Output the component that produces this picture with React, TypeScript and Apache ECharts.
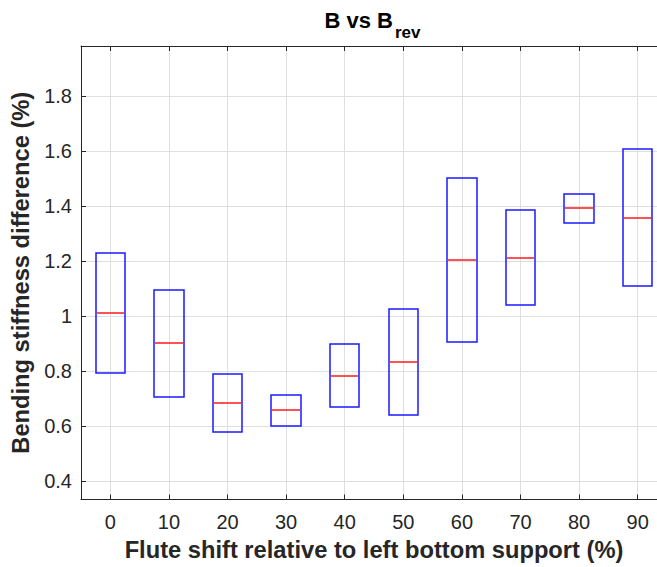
import React, { useEffect, useRef } from 'react';
import * as echarts from 'echarts';

const categories = ['0', '10', '20', '30', '40', '50', '60', '70', '80', '90'];
const q1 = [0.792, 0.704, 0.578, 0.601, 0.670, 0.640, 0.904, 1.040, 1.339, 1.109];
const medians = [1.011, 0.900, 0.683, 0.657, 0.783, 0.833, 1.205, 1.213, 1.392, 1.357];
const q3 = [1.229, 1.096, 0.788, 0.713, 0.897, 1.025, 1.504, 1.387, 1.445, 1.608];
const yMin = 0.332;
const yMax = 1.983;
const yStep = 0.2;

const FONT = '"Liberation Sans", Arial, Helvetica, sans-serif';
const AX = '#262626';
const GRID = '#dfdfdf';

const snap = (v: number) => Math.round(v);

export default function App() {
  const ref = useRef<HTMLDivElement>(null);
  useEffect(() => {
    if (!ref.current) return;
    const chart = echarts.init(ref.current, null, { renderer: 'svg' });
    const data = categories.map((c, i) => [i, q1[i], medians[i], q3[i]]);
    chart.setOption({
      animation: false,
      backgroundColor: '#ffffff',
      textStyle: { fontFamily: FONT },
      grid: { left: 81, top: 46, right: 0, bottom: 62, containLabel: false },
      graphic: [
        {
          type: 'text',
          x: 393,
          y: 20,
          style: {
            text: 'B vs B',
            font: `bold 22px ${FONT}`,
            fill: '#000',
            textAlign: 'right',
            textVerticalAlign: 'middle',
          },
        },
        {
          type: 'text',
          x: 395,
          y: 32,
          style: {
            text: 'rev',
            font: `bold 17px ${FONT}`,
            fill: '#000',
            textAlign: 'left',
            textVerticalAlign: 'middle',
          },
        },
      ],
      xAxis: [
        {
          type: 'category',
          data: categories,
          position: 'bottom',
          boundaryGap: true,
          name: 'Flute shift relative to left bottom support (%)',
          nameLocation: 'middle',
          nameGap: 38.5,
          nameTextStyle: { fontSize: 23.7, fontWeight: 'bold', color: AX, fontFamily: FONT },
          axisLine: { show: true, lineStyle: { color: AX, width: 1 } },
          axisTick: { show: true, inside: true, length: 5, alignWithLabel: true, lineStyle: { color: AX } },
          axisLabel: { fontSize: 20, color: AX, margin: 12, fontFamily: FONT },
          splitLine: { show: true, alignWithLabel: true, lineStyle: { color: GRID, width: 1 } },
        },
        {
          type: 'category',
          data: categories,
          position: 'top',
          boundaryGap: true,
          axisLine: { show: true, lineStyle: { color: AX, width: 1 } },
          axisTick: { show: true, inside: true, length: 5, alignWithLabel: true, lineStyle: { color: AX } },
          axisLabel: { show: false },
          splitLine: { show: false },
        },
      ],
      yAxis: {
        type: 'value',
        min: yMin,
        max: yMax,
        splitNumber: 8,
        minInterval: yStep,
        maxInterval: yStep,
        name: 'Bending stiffness difference (%)',
        nameLocation: 'middle',
        nameGap: 42.5,
        nameRotate: 90,
        nameTextStyle: { fontSize: 23.7, fontWeight: 'bold', color: AX, fontFamily: FONT },
        axisLine: { show: true, lineStyle: { color: AX, width: 1 } },
        axisTick: { show: true, inside: true, length: 5, lineStyle: { color: AX } },
        axisLabel: { fontSize: 20, color: AX, margin: 9, showMinLabel: false, showMaxLabel: false, fontFamily: FONT },
        splitLine: { show: true, lineStyle: { color: GRID, width: 1 } },
      },
      series: [
        {
          type: 'custom',
          xAxisIndex: 0,
          data,
          encode: { x: 0, y: [1, 2, 3] },
          renderItem: (params: any, api: any) => {
            const idx = api.value(0);
            const lo = api.coord([idx, api.value(1)]);
            const md = api.coord([idx, api.value(2)]);
            const hi = api.coord([idx, api.value(3)]);
            const w = api.size([1, 0])[0] * 0.5;
            const xl = snap(lo[0] - w / 2);
            const xr = snap(lo[0] + w / 2);
            const yt = snap(hi[1]);
            const yb = snap(lo[1]);
            const ym = snap(md[1]);
            return {
              type: 'group',
              children: [
                {
                  type: 'rect',
                  shape: { x: xl, y: yt, width: xr - xl, height: yb - yt },
                  style: { fill: 'none', stroke: '#1a1aff', lineWidth: 1.5 },
                },
                {
                  type: 'line',
                  shape: { x1: xl + 1, y1: ym, x2: xr - 1, y2: ym },
                  style: { stroke: '#ff1a1a', lineWidth: 1.5 },
                },
              ],
            };
          },
        },
      ],
    });
    return () => chart.dispose();
  }, []);
  return (
    <div style={{ position: 'absolute', left: 0, top: 0, width: 657, height: 567, overflow: 'hidden', background: '#fff' }}>
      <div ref={ref} style={{ position: 'absolute', left: 0, top: 0, width: 667, height: 567 }} />
    </div>
  );
}
